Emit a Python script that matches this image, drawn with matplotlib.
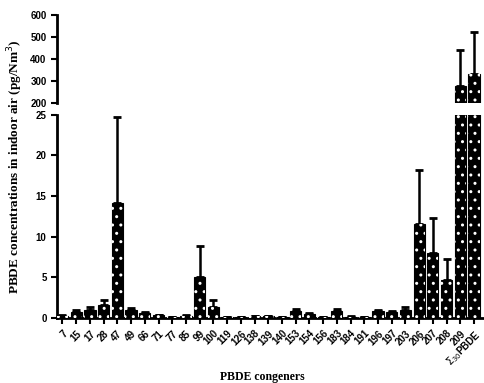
import matplotlib.pyplot as plt
import numpy as np

congeners = ['7', '15', '17', '28', '47', '49', '66', '71', '77', '85', '99', '100',
             '119', '126', '138', '139', '140', '153', '154', '156', '183', '184',
             '191', '196', '197', '203', '206', '207', '208', '209', r'$\Sigma_{30}$PBDE']
means = [0.25, 0.7, 1.0, 1.6, 14.1, 1.0, 0.6, 0.3, 0.05, 0.25, 5.0, 1.4,
         0.1, 0.1, 0.2, 0.2, 0.05, 0.8, 0.5, 0.05, 0.8, 0.15,
         0.1, 0.8, 0.7, 1.0, 11.6, 8.0, 4.7, 277, 332]
errors = [0.05, 0.3, 0.4, 0.6, 10.7, 0.2, 0.1, 0.05, 0.02, 0.05, 3.9, 0.8,
          0.03, 0.03, 0.05, 0.05, 0.02, 0.3, 0.15, 0.02, 0.3, 0.05,
          0.03, 0.2, 0.1, 0.3, 6.6, 4.3, 2.5, 164, 191]

x = np.arange(len(congeners))
means = np.array(means)
errors = np.array(errors)
lower = np.zeros(len(x))

sans = 'Liberation Sans'
serif = 'Liberation Serif'

fig = plt.figure(figsize=(4.85, 3.83), dpi=100)
ax_top = fig.add_axes([0.1175, 0.731, 0.8825, 0.230])
ax_bot = fig.add_axes([0.1175, 0.170, 0.8825, 0.530])

for ax in (ax_top, ax_bot):
    ax.bar(x, means, 0.82, color='black', edgecolor='black', linewidth=0.8, zorder=2)
    ax.bar(x, means, 0.82, color='none', edgecolor='white', hatch='..',
           linewidth=0, zorder=3)
    ax.errorbar(x, means, yerr=[lower, errors], fmt='none', ecolor='black',
                elinewidth=1.8, capsize=3, capthick=2, zorder=1)
    ax.set_xlim(-0.4, 30.8)
    ax.spines['right'].set_visible(False)
    ax.spines['top'].set_visible(False)
    ax.spines['left'].set_linewidth(2)
    ax.spines['bottom'].set_linewidth(2)
    ax.tick_params(width=1.5, length=4, labelsize=7)

ax_top.set_ylim(200, 600)
ax_top.set_yticks([200, 300, 400, 500, 600])
ax_top.spines['bottom'].set_visible(False)
ax_top.set_xticks([])

ax_bot.set_ylim(0, 25)
ax_bot.set_yticks([0, 5, 10, 15, 20, 25])
ax_bot.set_xticks(x)
ax_bot.set_xticklabels(congeners, rotation=45, ha='right', rotation_mode='anchor')

for ax in (ax_top, ax_bot):
    for lab in ax.get_yticklabels() + ax.get_xticklabels():
        lab.set_fontfamily(sans)
        lab.set_fontweight('bold')

fig.text(0.031, 0.565, 'PBDE concentrations in indoor air (pg/Nm$^3$)', rotation=90,
         ha='center', va='center', fontsize=9.5, fontweight='bold', family=serif)
fig.text(0.54, 0.016, 'PBDE congeners', ha='center', va='center', fontsize=8.5,
         fontweight='bold', family=serif)

fig.savefig('out.png', dpi=100)
